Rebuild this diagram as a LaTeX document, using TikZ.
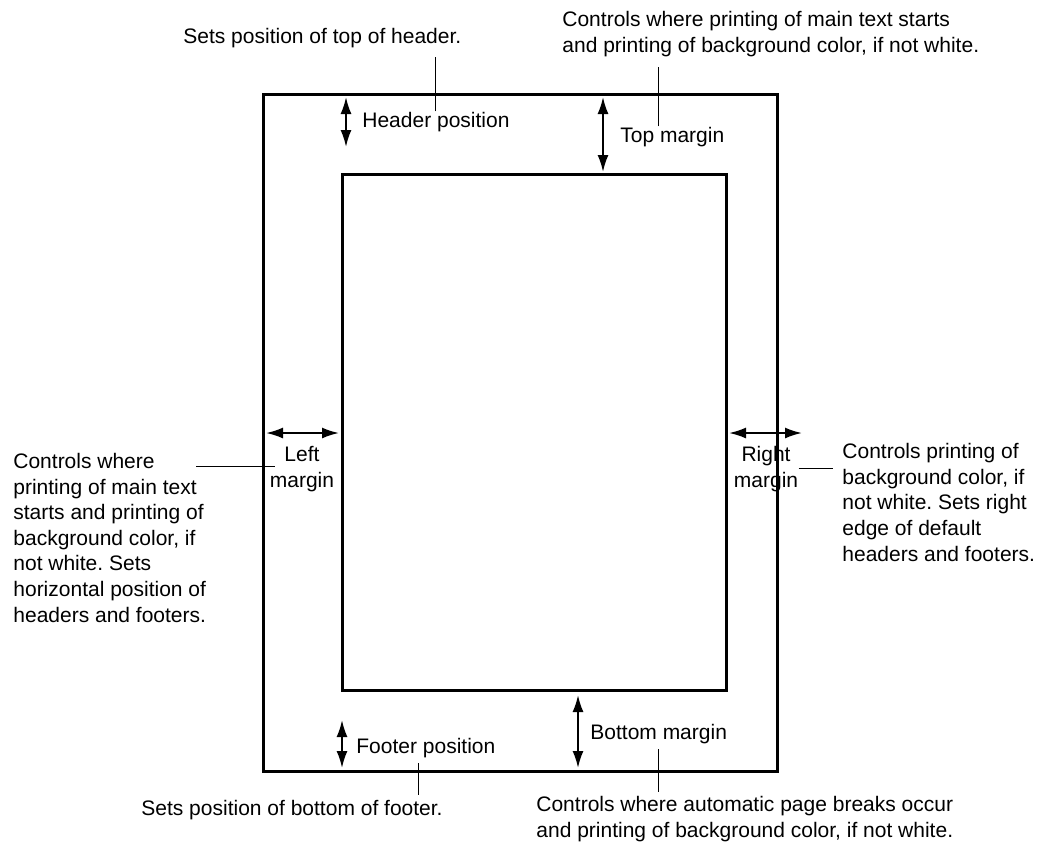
\documentclass[tikz,border=0pt]{standalone}
\usepackage{fontspec}
\setmainfont{Liberation Sans}
\usetikzlibrary{arrows.meta}
\frenchspacing

\begin{document}
\begin{tikzpicture}[
    x=0.5pt, y=-0.5pt,
    every node/.style={font=\fontsize{10.5}{12.8}\selectfont, inner sep=0pt},
    frame/.style={line width=1.5pt},
    dimarrow/.style={{Latex[length=8.5pt,width=5.5pt]}-{Latex[length=8.5pt,width=5.5pt]}, line width=1pt},
    leader/.style={line width=0.5pt},
    note/.style={align=left, anchor=base west},
    tag/.style={anchor=base west}
]
\useasboundingbox (0,0) rectangle (1037,842);

% page and printed area
\draw[frame] (263,94) rectangle (777,771);
\draw[frame] (342,174) rectangle (726,690);

% ends of the dimension arrows
\coordinate (hdrtop) at (346,97);
\coordinate (hdrbot) at (346,147);
\coordinate (toptop) at (603,97);
\coordinate (topbot) at (603,172);
\coordinate (lefta) at (266,433);
\coordinate (leftb) at (339,433);
\coordinate (righta) at (729,433);
\coordinate (rightb) at (802,433);
\coordinate (ftrtop) at (342,720);
\coordinate (ftrbot) at (342,768);
\coordinate (bottop) at (578,695);
\coordinate (botbot) at (578,768);

\draw[dimarrow] (hdrtop) -- (hdrbot);
\draw[dimarrow] (toptop) -- (topbot);
\draw[dimarrow] (lefta) -- (leftb);
\draw[dimarrow] (righta) -- (rightb);
\draw[dimarrow] (ftrtop) -- (ftrbot);
\draw[dimarrow] (bottop) -- (botbot);

% labels inside the page (multi-line nodes sit on their last line)
\node[tag] (hdrpos) at (362,127) {Header position};
\node[tag] (topmar) at (620,142) {Top margin};
\node[align=center, anchor=base] (leftmar) at (302,487) {Left\\margin};
\node[align=center, anchor=base] (rightmar) at (766,487) {Right\\margin};
\node[tag] (ftrpos) at (356,753) {Footer position};
\node[tag] (botmar) at (590,739) {Bottom margin};

% explanations
\node[note] (hdrnote) at (183,43) {Sets position of top of header.};
\node[note] (topnote) at (562,52) {Controls where printing of main text starts\\and printing of background color, if not white.};
\node[note] (leftnote) at (13,622) {Controls where\\printing of main text\\starts and printing of\\background color, if\\not white. Sets\\horizontal position of\\headers and footers.};
\node[note] (rightnote) at (842,561) {Controls printing of\\background color, if\\not white. Sets right\\edge of default\\headers and footers.};
\node[note] (ftrnote) at (141,815) {Sets position of bottom of footer.};
\node[note] (botnote) at (536,837) {Controls where automatic page breaks occur\\and printing of background color, if not white.};

% leader lines
\draw[leader, shorten >=4.5pt] (hdrpos.north) -- (hdrpos.north |- hdrnote.south);
\draw[leader, shorten >=5pt] ([xshift=-7pt]topmar.north) -- ([xshift=-7pt]topmar.north |- topnote.south);
\draw[leader, shorten <=-2.5pt, shorten >=-5pt] ([yshift=1pt]leftmar.west) -- ([yshift=1pt]leftmar.west -| leftnote.east);
\draw[leader, shorten >=4.5pt] (rightmar.east) -- (rightmar.east -| rightnote.west);
\draw[leader, shorten <=2.8pt, shorten >=2.3pt] ([xshift=-3.75pt]ftrpos.south) -- ([xshift=-3.75pt]ftrpos.south |- ftrnote.north);
\draw[leader, shorten <=2.8pt, shorten >=2pt] (botmar.south) -- (botmar.south |- botnote.north);
\end{tikzpicture}
\end{document}
